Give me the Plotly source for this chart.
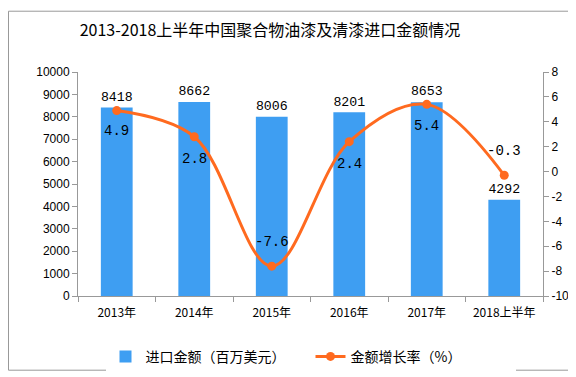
import plotly.graph_objects as go

categories = ["2013年", "2014年", "2015年", "2016年", "2017年", "2018上半年"]
import_values = [8418, 8662, 8006, 8201, 8653, 4292]
growth_rates = [4.9, 2.8, -7.6, 2.4, 5.4, -0.3]
growth_label_shift = [-20, -22, 24, -22, -22, 24]
left_ticks = list(range(0, 10001, 1000))
right_ticks = list(range(-10, 9, 2))

BLUE = "#3E9EF2"
ORANGE = "#FF6A1F"
L, R, T, B = 70, 41, 64, 79
PW, PH = 576 - L - R, 377 - T - B
MONO = "Liberation Mono, DejaVu Sans Mono"

fig = go.Figure()
fig.add_trace(go.Bar(
    x=categories, y=import_values, name="进口金额（百万美元）",
    marker=dict(color=BLUE, line=dict(width=0)),
    text=[str(v) for v in import_values], textposition="outside",
    textfont=dict(family=MONO, size=14, color="black"),
    cliponaxis=False,
))
fig.add_trace(go.Scatter(
    x=categories, y=growth_rates, name="金额增长率（%）", yaxis="y2",
    mode="lines+markers", line=dict(color=ORANGE, width=3, shape="spline", smoothing=1.0),
    marker=dict(color=ORANGE, size=9, symbol="circle"),
))
for c, g, s in zip(categories, growth_rates, growth_label_shift):
    fig.add_annotation(x=c, y=g, xref="x", yref="y2", text=str(g), showarrow=False,
                       yshift=s, font=dict(family=MONO, size=14, color="black"))

fig.add_shape(type="rect", xref="paper", yref="paper", layer="below",
              x0=-(L - 0.5) / PW, x1=1 + (R - 1.5) / PW, y0=-(B - 1.5) / PH, y1=1 + (T - 0.5) / PH,
              line=dict(color="#999999", width=1))

axis_font = dict(family="Liberation Sans, Arial", size=12, color="black")
fig.update_layout(
    width=576, height=377, margin=dict(l=L, r=R, t=T, b=B),
    paper_bgcolor="white", plot_bgcolor="rgba(0,0,0,0)",
    title=dict(text="2013-2018上半年中国聚合物油漆及清漆进口金额情况", x=262 / 576, xanchor="center",
               y=1 - 22 / 377, yanchor="middle",
               font=dict(family="Noto Sans CJK SC", size=16, color="black")),
    bargap=0.59,
    xaxis=dict(showline=True, linecolor="#999999", ticks="outside", tickcolor="#999999", ticklen=5,
               tickson="boundaries", tickfont=dict(family="Noto Sans CJK SC", size=12, color="black"),
               ticklabelstandoff=6, showgrid=False),
    yaxis=dict(range=[0, 10000], tickvals=left_ticks, ticktext=[str(v) for v in left_ticks],
               showline=True, linecolor="#999999", ticks="outside",
               tickcolor="#999999", ticklen=5, showgrid=False, zeroline=False, tickfont=axis_font),
    yaxis2=dict(range=[-10, 8], tickvals=right_ticks, ticktext=[str(v) for v in right_ticks],
                overlaying="y", side="right", showline=True, linecolor="#999999",
                ticks="outside", tickcolor="#999999", ticklen=5, showgrid=False, zeroline=False,
                tickfont=axis_font),
    legend=dict(orientation="h", x=0.5, xanchor="center", y=-0.2, yanchor="top",
                font=dict(family="Noto Sans CJK SC", size=14, color="black"),
                entrywidth=160, entrywidthmode="pixels"),
    showlegend=True,
)
fig.write_html("out.html")
